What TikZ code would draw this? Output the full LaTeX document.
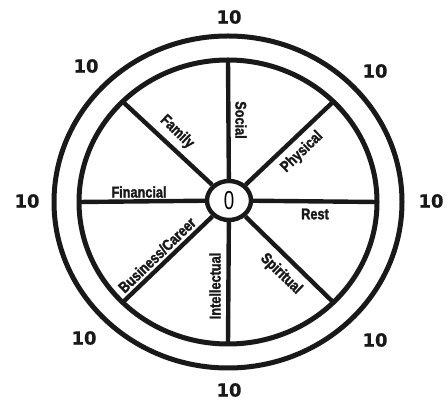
\documentclass[tikz,border=0pt]{standalone}
\usepackage{fontspec}
\setmainfont{Liberation Sans}
\newfontfamily\numfont[FakeBold=0.6]{DejaVu Sans Bold}
\newfontfamily\labelfont[FakeStretch=0.82, FakeBold=1.8]{Liberation Sans Bold}
\newfontfamily\hubfont[FakeStretch=0.72]{Liberation Sans}
\usetikzlibrary{shapes.geometric, positioning, calc}
\tikzstyle{rim} = [line width=5pt, draw=black!90]
\tikzstyle{spoke} = [line width=4.4pt, draw=black!90]
\tikzstyle{score} = [font=\numfont\fontsize{18}{18}\selectfont, text=black!90, inner sep=0pt]
\tikzstyle{area} = [font=\labelfont\fontsize{15.5}{15.5}\selectfont, text=black!90, inner sep=0pt]

\begin{document}
\begin{tikzpicture}[x=1pt, y=1pt]
    \useasboundingbox (0,0) rectangle (447,401);
    \coordinate (c) at (228,199);

    % wheel
    \draw [rim] (c) ellipse [x radius=174, y radius=166];
    \draw [rim] (c) ellipse [x radius=149, y radius=142];
    \node (hub) [ellipse, rim, line width=4.4pt, fill=white, minimum width=44, minimum height=39, inner sep=0pt] at (229,200.5) {\hubfont\fontsize{26}{26}\selectfont 0};

    % spokes
    \foreach \a in {0,45,...,315}
        \coordinate (r\a) at ($(c)+(\a:149 and 142)$);
    \foreach \a in {0,45,...,315}
        \draw [spoke] (hub) -- (r\a);

    % areas
    \node (social) [area, rotate=-90] at (241,281) {Social};
    \node (family) [area, rotate=-44] at (177,269) {Family};
    \node (physical) [area, rotate=44] at (302,249) {Physical};
    \node (financial) [area] at (139,209) {Financial};
    \node (rest) [area] at (315,187) {Rest};
    \node (business) [area, rotate=44] at (157,146) {Business/Career};
    \node (intellectual) [area, rotate=90] at (215,115) {Intellectual};
    \node (spiritual) [area, rotate=-44] at (281,127) {Spiritual};

    % scores
    \node (sN) [score] at (229,384) {10};
    \node (sNE) [score] at (375,330) {10};
    \node (sE) [score] at (431,200) {10};
    \node (sSE) [score] at (375,61) {10};
    \node (sS) [score] at (229,11) {10};
    \node (sSW) [score] at (84,63) {10};
    \node (sW) [score] at (27,200) {10};
    \node (sNW) [score] at (86,335) {10};

\end{tikzpicture}
\end{document}
